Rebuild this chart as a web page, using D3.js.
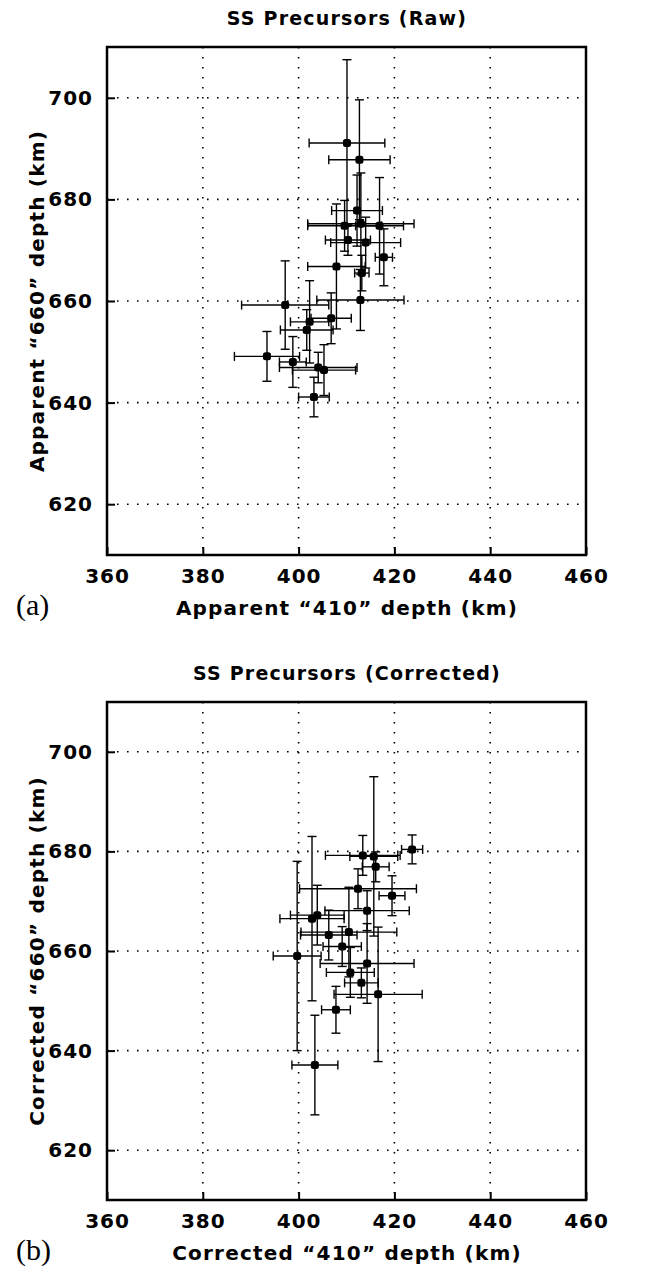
<!DOCTYPE html>
<meta charset="utf-8">
<title>SS Precursors</title>
<script src="https://d3js.org/d3.v7.min.js"></script>
<style>
  body { margin: 0; background: #fff; }
  text { font-family: "DejaVu Sans", sans-serif; fill: #000; }
</style>
<body>
<div id="viz"></div>
<script>
// apparent depths, panel (a)
const rawX    = [410.1, 412.7, 412.2, 409.6, 413.0, 416.9, 410.3, 414.0, 417.8, 407.9, 413.2, 412.9, 397.2, 406.8, 402.3, 401.7, 393.4, 398.8, 404.1, 405.3, 403.2];
const rawY    = [691.1, 687.8, 677.8, 674.8, 675.2, 674.8, 672.0, 671.5, 668.6, 666.8, 665.5, 660.2, 659.2, 656.6, 655.9, 654.3, 649.1, 648.0, 646.9, 646.4, 641.1];
const rawXErr = [7.9, 6.4, 5.3, 7.7, 11.1, 5.0, 4.7, 7.3, 1.8, 6.0, 1.5, 9.1, 9.1, 4.2, 4.0, 5.5, 6.8, 2.8, 8.1, 6.6, 3.2];
const rawYErr = [16.4, 11.8, 7.0, 5.0, 10.0, 9.5, 3.0, 5.0, 5.6, 12.3, 3.5, 6.0, 8.7, 5.0, 8.1, 4.0, 4.9, 5.0, 3.0, 5.0, 3.9];

// corrected depths, panel (b)
const corrX    = [423.7, 413.4, 415.7, 416.1, 412.4, 419.5, 414.3, 402.8, 403.9, 406.3, 410.5, 409.1, 399.7, 414.3, 410.8, 413.1, 416.6, 407.8, 403.4];
const corrY    = [680.4, 679.2, 679.0, 676.9, 672.5, 671.1, 668.1, 666.5, 667.2, 663.2, 663.8, 660.9, 659.0, 657.5, 655.7, 653.6, 651.3, 648.2, 637.1];
const corrXErr = [2.2, 7.8, 5.0, 2.8, 12.2, 2.7, 8.8, 6.7, 5.6, 5.9, 10.0, 4.0, 5.0, 9.8, 5.0, 3.5, 9.2, 3.0, 4.8];
const corrYErr = [2.9, 4.0, 16.0, 3.0, 4.0, 4.0, 4.0, 16.5, 6.0, 5.0, 9.0, 4.0, 19.0, 8.0, 5.0, 3.0, 13.5, 4.7, 10.0];

const xTicks = [360, 380, 400, 420, 440, 460];
const yTicks = [620, 640, 660, 680, 700];

const width = 646, height = 1278;
const svg = d3.select("#viz").append("svg")
  .attr("width", width)
  .attr("height", height);

function panel(cfg) {
  const x = d3.scaleLinear().domain([360, 460]).range([107, 586]);
  const y = d3.scaleLinear().domain([610, 710]).range([cfg.bottom, cfg.top]);
  const g = svg.append("g");

  // dotted grid
  g.selectAll(".gx").data(xTicks.slice(1, -1)).join("line")
    .attr("x1", d => x(d)).attr("x2", d => x(d))
    .attr("y1", cfg.top).attr("y2", cfg.bottom)
    .attr("stroke", "#000").attr("stroke-width", 1.6)
    .attr("stroke-dasharray", "1.6,8.4");
  g.selectAll(".gy").data(yTicks).join("line")
    .attr("x1", 107).attr("x2", 586)
    .attr("y1", d => y(d)).attr("y2", d => y(d))
    .attr("stroke", "#000").attr("stroke-width", 1.6)
    .attr("stroke-dasharray", "1.6,8.4");

  // axes with inward ticks
  const ax = g.append("g").attr("transform", `translate(0,${cfg.bottom})`)
    .call(d3.axisBottom(x).tickValues(xTicks).tickSize(-8).tickPadding(14));
  const ay = g.append("g").attr("transform", "translate(107,0)")
    .call(d3.axisLeft(y).tickValues(yTicks).tickSize(-8).tickPadding(14));
  [ax, ay].forEach(a => {
    a.select(".domain").remove();
    a.selectAll(".tick line").attr("stroke-width", 2);
    a.selectAll(".tick text")
      .style("font-family", "'DejaVu Sans', sans-serif")
      .style("font-size", "20px").style("font-weight", "bold")
      .style("letter-spacing", "1px");
  });

  // frame
  g.append("rect")
    .attr("x", 107).attr("y", cfg.top)
    .attr("width", 479).attr("height", cfg.bottom - cfg.top)
    .attr("fill", "none").attr("stroke", "#000").attr("stroke-width", 2.5);

  // error bars
  const pts = cfg.xs.map((v, i) => ({x: v, y: cfg.ys[i], ex: cfg.exs[i], ey: cfg.eys[i]}));
  const cap = 4.5;
  const eb = g.append("g").attr("stroke", "#000").attr("stroke-width", 1.4);
  pts.forEach(d => {
    const px = x(d.x), py = y(d.y);
    const x0 = x(d.x - d.ex), x1 = x(d.x + d.ex);
    const y0 = y(d.y - d.ey), y1 = y(d.y + d.ey);
    eb.append("line").attr("x1", x0).attr("x2", x1).attr("y1", py).attr("y2", py);
    eb.append("line").attr("x1", x0).attr("x2", x0).attr("y1", py - cap).attr("y2", py + cap);
    eb.append("line").attr("x1", x1).attr("x2", x1).attr("y1", py - cap).attr("y2", py + cap);
    eb.append("line").attr("x1", px).attr("x2", px).attr("y1", y0).attr("y2", y1);
    eb.append("line").attr("x1", px - cap).attr("x2", px + cap).attr("y1", y0).attr("y2", y0);
    eb.append("line").attr("x1", px - cap).attr("x2", px + cap).attr("y1", y1).attr("y2", y1);
  });
  g.selectAll(".pt").data(pts).join("rect")
    .attr("x", d => x(d.x) - 4).attr("y", d => y(d.y) - 4)
    .attr("width", 8).attr("height", 8).attr("rx", 2.5)
    .attr("fill", "#000");

  // titles and labels
  g.append("text").attr("x", 347).attr("y", cfg.top - 22)
    .attr("text-anchor", "middle")
    .style("font-size", "19px").style("font-weight", "bold").style("letter-spacing", "1.2px")
    .text(cfg.title);
  g.append("text").attr("x", 347).attr("y", cfg.bottom + 60)
    .attr("text-anchor", "middle")
    .style("font-size", "20px").style("font-weight", "bold").style("letter-spacing", "1.2px")
    .text(cfg.xlabel);
  g.append("text")
    .attr("transform", `translate(44,${(cfg.top + cfg.bottom) / 2}) rotate(-90)`)
    .attr("text-anchor", "middle")
    .style("font-size", "20px").style("font-weight", "bold").style("letter-spacing", "1.2px")
    .text(cfg.ylabel);
  g.append("text").attr("x", 16).attr("y", cfg.bottom + 60)
    .style("font-family", "'Liberation Serif', serif").style("font-size", "30px")
    .text(cfg.tag);
}

panel({top: 47, bottom: 555, xs: rawX, ys: rawY, exs: rawXErr, eys: rawYErr,
  title: "SS Precursors (Raw)", xlabel: "Apparent \u201C410\u201D depth (km)",
  ylabel: "Apparent \u201C660\u201D depth (km)", tag: "(a)"});
panel({top: 702, bottom: 1200, xs: corrX, ys: corrY, exs: corrXErr, eys: corrYErr,
  title: "SS Precursors (Corrected)", xlabel: "Corrected \u201C410\u201D depth (km)",
  ylabel: "Corrected \u201C660\u201D depth (km)", tag: "(b)"});
</script>
</body>
